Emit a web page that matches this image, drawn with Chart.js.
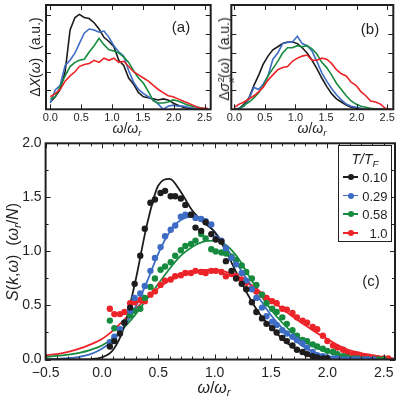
<!DOCTYPE html>
<html>
<head>
<meta charset="utf-8">
<script src="https://cdn.jsdelivr.net/npm/chart.js@4.4.0/dist/chart.umd.min.js"></script>
<style>
  body { margin: 0; background: #fff; }
  #wrap { position: relative; width: 399px; height: 400px; overflow: hidden; background: #fff;
          font-family: 'Liberation Sans', Arial, sans-serif; color: #231f20; }
  canvas { position: absolute; }
  .lbl { position: absolute; transform: translate(-50%, -50%); white-space: nowrap; line-height: 1; }
  .rot { transform: translate(-50%, -50%) rotate(-90deg); }
  sub { font-size: 70%; vertical-align: -0.3em; line-height: 0; }
  sup { font-size: 70%; vertical-align: 0.6em; line-height: 0; }
  .ss { display: inline-block; position: relative; width: 0.5em; height: 1em; vertical-align: -0.1em; font-size: 70%; }
  .ss i, .ss span { position: absolute; left: 0.05em; line-height: 1; }
  #legend { position: absolute; left: 338px; top: 145px; width: 54px; height: 97px; box-sizing: border-box;
            border: 1.5px solid #231f20; background: #fff; }
  .ltitle { position: absolute; left: 26px; top: 12.5px; transform: translate(-50%, -50%); font-size: 14px; font-style: italic; white-space: nowrap; line-height: 1; }
  .lrow { position: absolute; left: 0; width: 51px; height: 0; }
  .lline { position: absolute; left: 4px; width: 15px; top: -0.8px; height: 1.6px; }
  .ldot { position: absolute; left: 8.5px; top: -3px; width: 6px; height: 6px; border-radius: 50%; }
  .ltxt { position: absolute; right: 2.5px; top: 0; transform: translateY(-50%); font-size: 13px; line-height: 1; }
</style>
</head>
<body>
<div id="wrap">
  <canvas id="chartA" width="220" height="135" style="left:0;top:0"></canvas>
  <canvas id="chartB" width="179" height="135" style="left:220px;top:0"></canvas>
  <canvas id="chartC" width="399" height="270" style="left:0;top:130px"></canvas>

  <div class="lbl" style="left:181px;top:26px;font-size:15px">(a)</div>
  <div class="lbl" style="left:370px;top:28px;font-size:15px">(b)</div>
  <div class="lbl" style="left:371px;top:280px;font-size:15px">(c)</div>

  <div class="lbl" style="left:127px;top:128px;font-size:14px"><i>ω</i>/<i>ω</i><sub><i>r</i></sub></div>
  <div class="lbl" style="left:312px;top:128px;font-size:14px"><i>ω</i>/<i>ω</i><sub><i>r</i></sub></div>
  <div class="lbl" style="left:214px;top:388px;font-size:16px"><i>ω</i>/<i>ω</i><sub><i>r</i></sub></div>

  <div class="lbl rot" style="left:35px;top:57px;font-size:14px">Δ<i>X</i>(<i>ω</i>)&nbsp;&nbsp;(a.u.)</div>
  <div class="lbl rot" style="left:224px;top:59px;font-size:14px">Δ<i>σ</i><span class="ss"><span style="top:-0.45em">2</span><i style="top:0.55em">x</i></span>(<i>ω</i>)&nbsp;&nbsp;(a.u.)</div>
  <div class="lbl rot" style="left:13px;top:252px;font-size:16px"><i>S</i>(<i>k</i>,<i>ω</i>)&nbsp;&nbsp;(<i>ω</i><sub><i>r</i></sub>/<i>N</i>)</div>

  <div id="legend"><div class="ltitle"><i>T</i>/<i>T</i><sub><i>F</i></sub></div></div>
</div>

<script>
// temperatures T/T_F, one colour each
const tempLabels = ['0.10', '0.29', '0.58', '1.0']
const colors = ['#1e1c1d', '#3d6cc4', '#168a3e', '#ec2328']

// omega grid of the measured traces in (a) and (b)
const omegaTop = [0.00, 0.08, 0.16, 0.24, 0.32, 0.40, 0.47, 0.55, 0.63, 0.71, 0.79, 0.87, 0.95, 1.03, 1.11, 1.19, 1.27,
  1.35, 1.43, 1.51, 1.59, 1.67, 1.75, 1.83, 1.91, 1.99, 2.07, 2.15, 2.23, 2.31, 2.39, 2.47, 2.55]

// (a) delta X(omega)
const dX010 = [0.07, 0.12, 0.19, 0.36, 0.76, 0.88, 0.91, 0.88, 0.87, 0.83, 0.77, 0.69, 0.65, 0.60, 0.47, 0.42, 0.30,
  0.24, 0.16, 0.12, 0.11, 0.10, 0.09, 0.10, 0.09, 0.06, 0.04, 0.02, 0.01, 0.01, 0.00, 0.00, 0.00]
const dX029 = [0.06, 0.185, 0.23, 0.42, 0.47, 0.54, 0.63, 0.73, 0.77, 0.76, 0.74, 0.75, 0.69, 0.61, 0.55, 0.51, 0.37,
  0.26, 0.19, 0.15, 0.12, 0.09, 0.05, 0.00, 0.03, 0.04, 0.03, 0.03, 0.02, 0.01, 0.01, 0.00, 0.00]
const dX058 = [0.10, 0.12, 0.22, 0.32, 0.41, 0.45, 0.47, 0.48, 0.55, 0.61, 0.68, 0.62, 0.57, 0.56, 0.54, 0.50, 0.45,
  0.37, 0.30, 0.25, 0.17, 0.08, 0.06, 0.06, 0.07, 0.09, 0.08, 0.06, 0.04, 0.03, 0.02, 0.01, 0.00]
const dX100 = [0.12, 0.15, 0.19, 0.27, 0.32, 0.36, 0.41, 0.43, 0.44, 0.47, 0.45, 0.49, 0.47, 0.49, 0.45, 0.46, 0.41,
  0.36, 0.33, 0.30, 0.27, 0.23, 0.19, 0.16, 0.13, 0.12, 0.10, 0.08, 0.06, 0.04, 0.02, 0.01, 0.01]

// (b) delta sigma_x^2(omega)
const dS010 = [0.00, 0.01, 0.05, 0.11, 0.23, 0.33, 0.43, 0.51, 0.57, 0.60, 0.63, 0.645, 0.645, 0.63, 0.59, 0.54, 0.47,
  0.39, 0.30, 0.22, 0.15, 0.10, 0.07, 0.04, 0.02, 0.01, 0.005, 0.00, 0.00, 0.00, 0.00, 0.00, 0.00]
const dS029 = [0.00, 0.01, 0.03, 0.10, 0.21, 0.19, 0.24, 0.32, 0.48, 0.54, 0.63, 0.64, 0.645, 0.70, 0.63, 0.61, 0.56,
  0.46, 0.35, 0.27, 0.20, 0.14, 0.09, 0.05, 0.03, 0.02, 0.01, 0.00, 0.00, 0.00, 0.00, 0.00, 0.00]
const dS058 = [0.00, 0.00, 0.04, 0.07, 0.11, 0.16, 0.22, 0.32, 0.39, 0.46, 0.54, 0.59, 0.59, 0.61, 0.60, 0.61, 0.58,
  0.53, 0.45, 0.40, 0.33, 0.25, 0.19, 0.13, 0.08, 0.05, 0.03, 0.02, 0.01, 0.005, 0.00, 0.00, 0.00]
const dS100 = [0.02, 0.05, 0.07, 0.10, 0.13, 0.17, 0.21, 0.28, 0.33, 0.38, 0.40, 0.41, 0.46, 0.49, 0.51, 0.52, 0.47,
  0.47, 0.49, 0.48, 0.44, 0.38, 0.34, 0.32, 0.26, 0.23, 0.17, 0.13, 0.08, 0.07, 0.05, 0.01, 0.00]

// (c) measured S(k,omega) points
const omegaDots = [0.07, 0.11, 0.16, 0.20, 0.25, 0.29, 0.34, 0.38, 0.43, 0.47, 0.52, 0.56, 0.61, 0.65, 0.70, 0.74, 0.79,
  0.83, 0.88, 0.92, 0.97, 1.01, 1.06, 1.10, 1.15, 1.19, 1.24, 1.28, 1.33, 1.37, 1.42, 1.46, 1.51, 1.55, 1.60, 1.64, 1.69,
  1.73, 1.78, 1.82, 1.87, 1.91, 1.96, 2.00, 2.05, 2.09, 2.14, 2.18, 2.23, 2.27, 2.32, 2.36, 2.41, 2.45, 2.50, 2.54]
const sk010 = [0.12, 0.17, 0.24, 0.34, 0.48, 0.70, 0.96, 1.21, 1.45, 1.48, 1.54, 1.56, 1.51, 1.51, 1.49, 1.43, 1.34,
  1.22, 1.19, 1.27, 1.16, 1.11, 1.09, 0.91, 0.82, 0.75, 0.70, 0.65, 0.53, 0.44, 0.38, 0.33, 0.29, 0.25, 0.20, 0.17, 0.13,
  0.09, 0.07, 0.05, 0.03, 0.02, 0.01, 0.01]
const sk029 = [0.16, 0.21, 0.28, 0.34, 0.45, 0.57, 0.61, 0.68, 0.82, 0.94, 1.04, 1.14, 1.20, 1.24, 1.32, 1.34, 1.34,
  1.31, 1.30, 1.28, 1.25, 1.12, 1.10, 1.03, 0.94, 0.88, 0.80, 0.73, 0.65, 0.57, 0.48, 0.40, 0.35, 0.32, 0.27, 0.24, 0.21,
  0.18, 0.15, 0.11, 0.07, 0.04, 0.03, 0.02, 0.01, 0.01, 0.00, 0.00, 0.00, 0.00, 0.00, 0.00, 0.00]
const sk058 = [0.36, 0.29, 0.27, 0.34, 0.41, 0.45, 0.47, 0.57, 0.67, 0.75, 0.83, 0.86, 0.90, 0.96, 1.01, 1.05, 1.07,
  1.10, 1.16, 1.12, 1.02, 1.00, 0.99, 0.98, 0.95, 0.92, 0.87, 0.81, 0.75, 0.69, 0.60, 0.52, 0.47, 0.44, 0.39, 0.33, 0.27,
  0.22, 0.18, 0.17, 0.14, 0.12, 0.10, 0.08, 0.07, 0.05, 0.03, 0.02, 0.01, 0.01, 0.00, 0.00, 0.00, 0.00, 0.00]
const sk100 = [0.47, 0.42, 0.42, 0.44, 0.52, 0.53, 0.55, 0.54, 0.60, 0.63, 0.69, 0.73, 0.74, 0.77, 0.78, 0.80, 0.80,
  0.82, 0.81, 0.80, 0.82, 0.82, 0.81, 0.77, 0.79, 0.77, 0.74, 0.71, 0.66, 0.63, 0.60, 0.57, 0.54, 0.52, 0.47, 0.46, 0.43,
  0.39, 0.36, 0.34, 0.30, 0.28, 0.22, 0.17, 0.13, 0.11, 0.09, 0.06, 0.05, 0.04, 0.03, 0.02, 0.01, 0.01, 0.01, 0.01]

// (c) theory curves
const omegaFit = [-0.5, -0.4, -0.3, -0.2, -0.1, 0.0, 0.1, 0.2, 0.3, 0.4, 0.5, 0.6, 0.7, 0.8, 0.9, 1.0, 1.1, 1.2, 1.3,
  1.4, 1.5, 1.6, 1.7, 1.8, 1.9, 2.0, 2.1, 2.2, 2.3, 2.4, 2.5, 2.6]
const fit010 = [0, 0, 0, 0, 0.003, 0.02, 0.09, 0.31, 0.74, 1.25, 1.61, 1.67, 1.55, 1.38, 1.27, 1.18, 1.00, 0.79, 0.59,
  0.42, 0.30, 0.19, 0.11, 0.05, 0.02, 0.007, 0.002, 0, 0, 0, 0, 0]
const fit029 = [0.003, 0.006, 0.012, 0.025, 0.05, 0.10, 0.18, 0.31, 0.49, 0.72, 0.98, 1.18, 1.29, 1.32, 1.28, 1.18, 1.04,
  0.88, 0.72, 0.56, 0.41, 0.29, 0.19, 0.11, 0.06, 0.03, 0.015, 0.006, 0.002, 0, 0, 0]
const fit058 = [0.025, 0.033, 0.045, 0.062, 0.09, 0.13, 0.20, 0.30, 0.42, 0.56, 0.70, 0.84, 0.96, 1.04, 1.09, 1.10, 1.06,
  0.95, 0.78, 0.61, 0.46, 0.34, 0.24, 0.165, 0.11, 0.07, 0.04, 0.02, 0.01, 0.005, 0.002, 0]
const fit100 = [0.04, 0.05, 0.07, 0.10, 0.14, 0.19, 0.27, 0.37, 0.47, 0.57, 0.66, 0.73, 0.78, 0.81, 0.83, 0.83, 0.81,
  0.77, 0.71, 0.63, 0.55, 0.47, 0.39, 0.32, 0.25, 0.19, 0.13, 0.085, 0.06, 0.04, 0.02, 0.01]


Chart.defaults.font.family = "'Liberation Sans', Arial, sans-serif"
Chart.defaults.color = '#231f20'

//inward tick marks on all four sides plus the frame
const boxTicks = {
  id: 'boxTicks',
  afterDatasetsDraw(chart, args, opts) {
    const ctx = chart.ctx
    const a = chart.chartArea
    ctx.save()
    ctx.strokeStyle = '#231f20'
    ctx.lineWidth = 1
    function marks(scale, step, len) {
      if (!step) return
      const k0 = Math.ceil(scale.min / step - 1e-6)
      const k1 = Math.floor(scale.max / step + 1e-6)
      for (let k = k0; k <= k1; k++) {
        const p = Math.round(scale.getPixelForValue(k * step)) + 0.5
        ctx.beginPath()
        if (scale.axis === 'x') {
          ctx.moveTo(p, a.bottom); ctx.lineTo(p, a.bottom - len)
          ctx.moveTo(p, a.top); ctx.lineTo(p, a.top + len)
        } else {
          ctx.moveTo(a.left, p); ctx.lineTo(a.left + len, p)
          ctx.moveTo(a.right, p); ctx.lineTo(a.right - len, p)
        }
        ctx.stroke()
      }
    }
    marks(chart.scales.x, opts.xMinor, 3)
    marks(chart.scales.x, opts.xMajor, 5)
    marks(chart.scales.y, opts.yMinor, 3)
    marks(chart.scales.y, opts.yMajor, 5)
    ctx.lineWidth = 2
    ctx.strokeRect(a.left, a.top, a.right - a.left, a.bottom - a.top)
    ctx.restore()
  }
}

function pts(xs, ys) {
  return ys.map((y, i) => ({ x: xs[i], y: y }))
}

//keep only the labels on multiples of 0.5
function halfSteps(scale) {
  let ticks = []
  for (let k = Math.ceil(scale.min * 2 - 1e-6); k <= Math.floor(scale.max * 2 + 1e-6); k++) {
    ticks.push({ value: k / 2 })
  }
  scale.ticks = ticks
}

function fmt(v) {
  return (v < 0 ? '\u2212' : '') + Math.abs(v).toFixed(1)
}

//small trace panels (a) and (b)
function tracePanel(id, series, xMin, yWidth, padRight) {
  const datasets = series.map((s, i) => ({
    data: pts(omegaTop, s),
    showLine: true,
    borderColor: colors[i],
    borderWidth: 1.6,
    pointRadius: 0,
    tension: 0
  })).reverse()

  return new Chart(document.getElementById(id), {
    type: 'scatter',
    data: { datasets: datasets },
    plugins: [boxTicks],
    options: {
      responsive: false,
      animation: false,
      events: [],
      layout: { padding: { top: 5, right: padRight, left: 0, bottom: 0 } },
      plugins: {
        legend: { display: false },
        tooltip: { enabled: false },
        boxTicks: { xMajor: 0.5, yMajor: 0.181 }
      },
      scales: {
        x: {
          type: 'linear', min: xMin, max: 2.6,
          grid: { display: false, drawTicks: false },
          border: { display: false },
          afterBuildTicks: halfSteps,
          afterFit: s => { s.height = 25.7 },
          ticks: { autoSkip: false, padding: 2, maxRotation: 0, font: { size: 11 }, callback: fmt }
        },
        y: {
          min: 0, max: 1,
          grid: { display: false, drawTicks: false },
          border: { display: false },
          afterFit: s => { s.width = yWidth },
          ticks: { display: false }
        }
      }
    }
  })
}

tracePanel('chartA', [dX010, dX029, dX058, dX100], -0.07, 46, 9.3)
tracePanel('chartB', [dS010, dS029, dS058, dS100], -0.05, 11.3, 5.7)

//main panel (c)
const dots = [sk010, sk029, sk058, sk100]
const fits = [fit010, fit029, fit058, fit100]
const mainSets = []
dots.forEach((d, i) => {
  mainSets.push({
    label: tempLabels[i],
    data: pts(omegaDots, d),
    backgroundColor: colors[i],
    borderWidth: 0,
    pointRadius: 3.2,
    order: 0
  })
})
fits.forEach((f, i) => {
  mainSets.push({
    data: pts(omegaFit, f),
    showLine: true,
    borderColor: colors[i],
    borderWidth: 1.8,
    pointRadius: 0,
    cubicInterpolationMode: 'monotone',
    order: 1
  })
})

new Chart(document.getElementById('chartC'), {
  type: 'scatter',
  data: { datasets: mainSets },
  plugins: [boxTicks],
  options: {
    responsive: false,
    animation: false,
    events: [],
    layout: { padding: { top: 13.3, right: 2.4, left: 0, bottom: 0 } },
    plugins: {
      legend: { display: false },
      tooltip: { enabled: false },
      boxTicks: { xMajor: 0.5, xMinor: 0.1, yMajor: 0.5, yMinor: 0.25 }
    },
    scales: {
      x: {
        type: 'linear', min: -0.5, max: 2.6,
        grid: { display: false, drawTicks: false },
        border: { display: false },
        afterBuildTicks: halfSteps,
        afterFit: s => { s.height = 40.5 },
        ticks: { autoSkip: false, padding: 5, maxRotation: 0, font: { size: 14 }, callback: fmt }
      },
      y: {
        min: 0, max: 2,
        grid: { display: false, drawTicks: false },
        border: { display: false },
        afterFit: s => { s.width = 45.6 },
        ticks: { stepSize: 0.5, padding: 4, font: { size: 14 }, callback: fmt }
      }
    }
  }
})

//legend box
let legend = document.getElementById('legend')
tempLabels.forEach((t, i) => {
  let row = document.createElement('div')
  row.className = 'lrow'
  row.style.top = (30.8 + 18.7 * i) + 'px'
  row.innerHTML = `<span class="lline" style="background:${colors[i]}"></span>
                   <span class="ldot" style="background:${colors[i]}"></span>
                   <span class="ltxt">${t}</span>`
  legend.append(row)
})
</script>
</body>
</html>
